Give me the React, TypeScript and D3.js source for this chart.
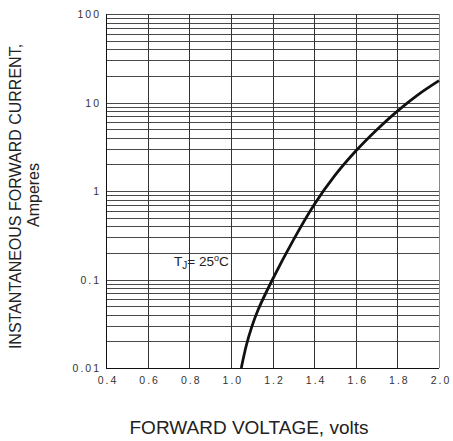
import React from "react";
import * as d3 from "d3";

// forward voltage (V) vs instantaneous forward current (A), TJ = 25°C
const volts = [1.05, 1.075, 1.1, 1.13, 1.2, 1.3, 1.4, 1.5, 1.6, 1.7, 1.8, 1.9, 2.0];
const amps = [0.01, 0.0183, 0.029, 0.045, 0.1, 0.279, 0.7, 1.5, 2.83, 4.9, 8.0, 12.3, 17.7];

const xTicks = [0.4, 0.6, 0.8, 1.0, 1.2, 1.4, 1.6, 1.8, 2.0];
const yTicks = [0.01, 0.1, 1, 10, 100];
const yTickLabels = ["0.01", "0.1", "1", "10", "100"];

const W = 453;
const H = 441;
const left = 106;
const right = 439;
const top = 14;
const bottom = 368;

export default function App() {
  const x = d3.scaleLinear().domain([0.4, 2.0]).range([left, right]);
  const y = d3.scaleLog().domain([0.01, 100]).range([bottom, top]);

  // minor log grid: 1..9 in every decade
  const hLines: number[] = [];
  for (let d = 0; d < 4; d++) {
    for (let k = 1; k <= 9; k++) hLines.push(k * yTicks[d]);
  }
  hLines.push(100);

  const pts: [number, number][] = volts.map((v, i) => [v, amps[i]]);
  const curve = d3
    .line<[number, number]>()
    .x((d) => x(d[0]))
    .y((d) => y(d[1]))
    .curve(d3.curveCatmullRom.alpha(0.5))(pts);

  const font = "'Liberation Sans', Arial, sans-serif";

  return (
    <svg
      width={W}
      height={H}
      style={{ position: "absolute", left: 0, top: 0, background: "#fff" }}
      fontFamily={font}
    >
      {hLines.map((v, i) => (
        <line
          key={"h" + i}
          x1={left}
          x2={right}
          y1={Math.round(y(v)) + 0.5}
          y2={Math.round(y(v)) + 0.5}
          stroke="#4a4a4a"
          strokeWidth={1}
        />
      ))}
      {xTicks.map((v, i) => (
        <line
          key={"v" + i}
          x1={Math.round(x(v)) + 0.5}
          x2={Math.round(x(v)) + 0.5}
          y1={top}
          y2={bottom}
          stroke={i === xTicks.length - 1 ? "#888" : "#333"}
          strokeWidth={1}
        />
      ))}
      <line x1={left + 0.5} x2={left + 0.5} y1={top} y2={bottom + 0.5} stroke="#111" />
      <line x1={left} x2={right} y1={bottom + 0.5} y2={bottom + 0.5} stroke="#111" />

      <path d={curve ?? ""} fill="none" stroke="#111" strokeWidth={2.8} />

      {yTicks.map((v, i) => (
        <text
          key={"yt" + i}
          x={left - 5}
          y={y(v) + 4}
          textAnchor="end"
          fontSize={10.5}
          letterSpacing={2}
          fill="#333"
        >
          {yTickLabels[i]}
        </text>
      ))}
      {xTicks.map((v, i) => (
        <text
          key={"xt" + i}
          x={x(v) + 2}
          y={bottom + 16}
          textAnchor="middle"
          fontSize={10.5}
          letterSpacing={2}
          fill="#333"
        >
          {v.toFixed(1)}
        </text>
      ))}

      <text x={174} y={266} fontSize={13.5} fill="#222">
        T<tspan fontSize={10} dy={3}>J</tspan>
        <tspan dy={-3}>= 25</tspan>
        <tspan fontSize={9} dy={-5}>o</tspan>
        <tspan dy={5}>C</tspan>
      </text>

      <text
        transform={`translate(21,${(40 + 353) / 2}) rotate(-90)`}
        textAnchor="middle"
        fontSize={16}
        fill="#222"
      >
        INSTANTANEOUS FORWARD CURRENT,
      </text>
      <text
        transform={`translate(39,195) rotate(-90)`}
        textAnchor="middle"
        fontSize={16}
        fill="#222"
      >
        Amperes
      </text>
      <text x={249} y={434} textAnchor="middle" fontSize={19} fill="#222">
        FORWARD VOLTAGE, volts
      </text>
    </svg>
  );
}
